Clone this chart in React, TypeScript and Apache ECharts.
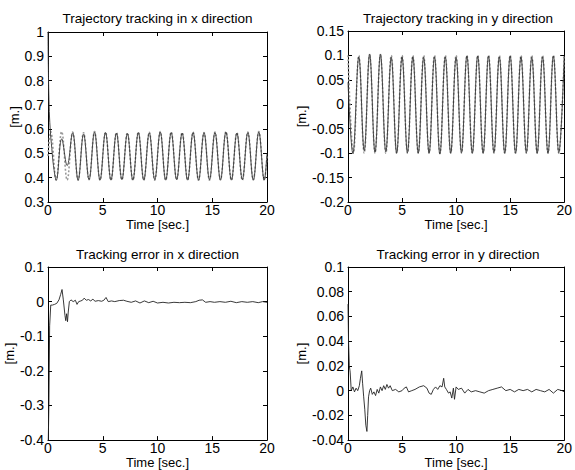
import React, { useEffect, useRef } from "react";
import * as echarts from "echarts";

// ---------- Data ----------
// Panel 1: trajectory tracking in x direction
const tRefX = [0, 0.25, 0.75, 1.25, 1.75, 2.25, 2.75, 3.25, 3.75, 4.25, 4.75, 5.25, 5.75, 6.25, 6.75, 7.25, 7.75, 8.25, 8.75, 9.25, 9.75, 10.25, 10.75, 11.25, 11.75, 12.25, 12.75, 13.25, 13.75, 14.25, 14.75, 15.25, 15.75, 16.25, 16.75, 17.25, 17.75, 18.25, 18.75, 19.25, 19.75, 20];
const refX = [0.49, 0.59, 0.39, 0.59, 0.39, 0.588, 0.39, 0.585, 0.392, 0.59, 0.39, 0.588, 0.39, 0.586, 0.392, 0.585, 0.39, 0.588, 0.39, 0.587, 0.39, 0.59, 0.39, 0.588, 0.392, 0.586, 0.39, 0.588, 0.39, 0.586, 0.39, 0.588, 0.392, 0.59, 0.39, 0.586, 0.39, 0.588, 0.392, 0.59, 0.39, 0.49];
const tActX = [0, 0.03, 0.1, 0.2, 0.35, 0.5, 0.75, 1.25, 1.75, 2.25, 2.75, 3.25, 3.75, 4.25, 4.75, 5.25, 5.75, 6.25, 6.75, 7.25, 7.75, 8.25, 8.75, 9.25, 9.75, 10.25, 10.75, 11.25, 11.75, 12.25, 12.75, 13.25, 13.75, 14.25, 14.75, 15.25, 15.75, 16.25, 16.75, 17.25, 17.75, 18.25, 18.75, 19.25, 19.75, 20];
const actX = [1.0, 0.86, 0.7, 0.6, 0.52, 0.45, 0.39, 0.56, 0.45, 0.585, 0.39, 0.58, 0.392, 0.588, 0.39, 0.586, 0.39, 0.584, 0.392, 0.582, 0.39, 0.586, 0.39, 0.585, 0.392, 0.588, 0.39, 0.586, 0.392, 0.584, 0.39, 0.586, 0.39, 0.585, 0.392, 0.586, 0.39, 0.588, 0.39, 0.584, 0.392, 0.586, 0.39, 0.588, 0.39, 0.5];

// Panel 2: trajectory tracking in y direction
const tRefY = [0, 0.5, 1, 1.5, 2, 2.5, 3, 3.5, 4, 4.5, 5, 5.5, 6, 6.5, 7, 7.5, 8, 8.5, 9, 9.5, 10, 10.5, 11, 11.5, 12, 12.5, 13, 13.5, 14, 14.5, 15, 15.5, 16, 16.5, 17, 17.5, 18, 18.5, 19, 19.5, 20];
const refY = [0.1, -0.1, 0.1, -0.1, 0.1, -0.1, 0.1, -0.1, 0.1, -0.1, 0.1, -0.1, 0.1, -0.1, 0.1, -0.1, 0.1, -0.1, 0.1, -0.1, 0.1, -0.1, 0.1, -0.1, 0.1, -0.1, 0.1, -0.1, 0.1, -0.1, 0.1, -0.1, 0.1, -0.1, 0.1, -0.1, 0.1, -0.1, 0.1, -0.1, 0.1];
const tActY = [0, 0.45, 1, 1.5, 2, 2.5, 3, 3.5, 4, 4.5, 5, 5.5, 6, 6.5, 7, 7.5, 8, 8.5, 9, 9.5, 10, 10.5, 11, 11.5, 12, 12.5, 13, 13.5, 14, 14.5, 15, 15.5, 16, 16.5, 17, 17.5, 18, 18.5, 19, 19.5, 20];
const actY = [0.045, -0.101, 0.097, -0.095, 0.103, -0.098, 0.103, -0.097, 0.096, -0.1, 0.097, -0.099, 0.097, -0.1, 0.096, -0.1, 0.097, -0.102, 0.097, -0.1, 0.096, -0.099, 0.099, -0.1, 0.099, -0.1, 0.099, -0.099, 0.097, -0.1, 0.099, -0.1, 0.097, -0.099, 0.096, -0.1, 0.097, -0.1, 0.099, -0.099, 0.099];

// Panel 3: tracking error in x direction
const tErrX = [0, 0.08, 0.15, 0.25, 0.4, 0.6, 0.8, 1.0, 1.15, 1.28, 1.4, 1.55, 1.62, 1.7, 1.78, 1.85, 1.95, 2.1, 2.3, 2.5, 2.65, 2.8, 3.0, 3.15, 3.3, 3.5, 3.7, 3.9, 4.1, 4.3, 4.6, 4.9, 5.1, 5.3, 5.5, 5.8, 6.1, 6.5, 6.9, 7.2, 7.6, 8.0, 8.4, 8.8, 9.2, 9.6, 10.0, 10.5, 11, 11.5, 12, 12.5, 13, 13.5, 13.8, 14.1, 14.4, 14.8, 15.2, 15.7, 16.2, 16.7, 17.2, 17.7, 18.2, 18.7, 19.2, 19.6, 20];
const errX = [-0.45, -0.3, -0.07, -0.01, -0.01, -0.008, -0.005, 0.005, 0.02, 0.035, 0.005, -0.04, -0.055, -0.035, -0.058, -0.03, 0.0, 0.005, 0.0, 0.004, -0.008, 0.0, 0.002, 0.004, 0.01, 0.004, 0.006, 0.002, 0.007, 0.001, 0.003, 0.001, 0.004, 0.012, 0.0, 0.002, 0.0, 0.003, 0.004, 0.001, -0.002, 0.002, -0.004, 0.002, -0.003, 0.001, -0.004, -0.002, -0.004, -0.002, -0.003, -0.002, -0.003, 0.0, 0.004, 0.005, -0.002, 0.0, -0.002, 0.0, -0.002, 0.001, -0.003, 0.0, -0.002, 0.0, -0.003, 0.0, -0.002];

// Panel 4: tracking error in y direction
const tErrY = [0, 0.05, 0.12, 0.2, 0.3, 0.45, 0.6, 0.75, 0.9, 1.05, 1.15, 1.27, 1.35, 1.45, 1.55, 1.65, 1.75, 1.82, 1.9, 2.0, 2.1, 2.25, 2.4, 2.55, 2.7, 2.85, 3.0, 3.15, 3.3, 3.45, 3.6, 3.75, 3.9, 4.1, 4.4, 4.7, 5.0, 5.2, 5.4, 5.6, 5.9, 6.2, 6.6, 7.0, 7.3, 7.5, 7.7, 7.9, 8.1, 8.3, 8.5, 8.7, 8.85, 8.95, 9.1, 9.3, 9.45, 9.6, 9.75, 9.85, 10.0, 10.2, 10.5, 10.8, 11.1, 11.4, 11.8, 12.2, 12.6, 13.0, 13.4, 13.8, 14.2, 14.6, 15.0, 15.4, 15.8, 16.2, 16.6, 17.0, 17.4, 17.8, 18.2, 18.6, 19.0, 19.4, 19.8, 20];
const errY = [0.07, 0.04, 0.02, 0.015, 0.0, 0.003, -0.001, 0.002, 0.0, 0.004, 0.01, 0.016, 0.006, -0.005, -0.015, -0.028, -0.033, -0.02, -0.005, 0.0, 0.002, -0.003, -0.001, -0.004, 0.001, -0.002, 0.003, 0.0, 0.004, 0.001, 0.005, 0.002, 0.004, 0.0, 0.001, -0.001, 0.0, 0.002, 0.003, -0.001, 0.0, 0.001, 0.003, 0.004, 0.002, -0.002, -0.003, 0.001, 0.003, 0.001, 0.004, 0.003, 0.01, 0.003, 0.001, -0.002, -0.001, -0.006, 0.002, -0.007, 0.003, 0.001, 0.002, -0.002, 0.001, -0.001, 0.0, -0.001, -0.002, 0.0, 0.001, 0.002, 0.003, 0.0, 0.001, -0.001, 0.001, 0.0, 0.001, -0.001, 0.001, 0.0, -0.001, 0.001, -0.002, 0.001, 0.0, -0.001];

const titles = [
  "Trajectory tracking in x direction",
  "Trajectory tracking in y direction",
  "Tracking error in x direction",
  "Tracking error in y direction",
];
const xName = "Time [sec.]";
const yName = "[m.]";

// ---------- Layout ----------
const FONT = "'Liberation Sans', Arial, Helvetica, sans-serif";
const grids = [
  { left: 48, top: 32, width: 219, height: 170 },
  { left: 348, top: 31, width: 220, height: 171 },
  { left: 48, top: 267, width: 219, height: 175 },
  { left: 348, top: 267, width: 220, height: 175 },
];
const yRanges = [
  { min: 0.3, max: 1, interval: 0.1 },
  { min: -0.2, max: 0.15, interval: 0.05 },
  { min: -0.4, max: 0.1, interval: 0.1 },
  { min: -0.04, max: 0.1, interval: 0.02 },
];
const titleY = [11, 11, 247, 247];
const xNameGap = [9, 9, 12, 12];
const yNameGap = [16, 22, 16, 22];

const zip = (t: number[], v: number[]) => t.map((x, i) => [x, v[i]]);

function buildOption() {
  const xAxis: any[] = [];
  const yAxis: any[] = [];
  const axisLine = { show: true, onZero: false, lineStyle: { color: "#000", width: 1 } };
  const axisTick = { show: true, inside: true, length: 4, lineStyle: { color: "#000", width: 1 } };
  grids.forEach((_, g) => {
    xAxis.push({
      type: "value", gridIndex: g, min: 0, max: 20, interval: 5, position: "bottom",
      axisLine, axisTick, splitLine: { show: false },
      axisLabel: { color: "#000", fontSize: 14, margin: 1, fontFamily: FONT },
      name: xName, nameLocation: "middle", nameGap: xNameGap[g],
      nameTextStyle: { color: "#000", fontSize: 13, fontFamily: FONT },
    });
    xAxis.push({
      type: "value", gridIndex: g, min: 0, max: 20, interval: 5, position: "top",
      axisLine, axisTick, splitLine: { show: false }, axisLabel: { show: false },
    });
    const r = yRanges[g];
    yAxis.push({
      type: "value", gridIndex: g, min: r.min, max: r.max, interval: r.interval, position: "left",
      axisLine, axisTick, splitLine: { show: false },
      axisLabel: { color: "#000", fontSize: 14, margin: 4, fontFamily: FONT },
      name: yName, nameLocation: "middle", nameGap: yNameGap[g],
      nameTextStyle: { color: "#000", fontSize: 13, fontFamily: FONT },
    });
    yAxis.push({
      type: "value", gridIndex: g, min: r.min, max: r.max, interval: r.interval, position: "right",
      axisLine, axisTick, splitLine: { show: false }, axisLabel: { show: false },
    });
  });

  const line = (g: number, data: number[][], color: string, width: number, type: any = "solid", z = 2) => ({
    type: "line", xAxisIndex: 2 * g, yAxisIndex: 2 * g, data, showSymbol: false, symbol: "none",
    smooth: 0.4, clip: true, z,
    lineStyle: { color, width, type },
  });

  return {
    animation: false,
    backgroundColor: "#fff",
    title: titles.map((text, g) => ({
      text,
      left: grids[g].left + grids[g].width / 2,
      top: titleY[g],
      textAlign: "center",
      padding: 0,
      textStyle: { color: "#000", fontSize: 13.5, fontWeight: "normal", fontFamily: FONT },
    })),
    grid: grids.map((g) => ({ ...g, containLabel: false })),
    xAxis,
    yAxis,
    series: [
      line(0, zip(tRefX, refX), "#999", 1.6, [2, 2], 2),
      line(0, zip(tActX, actX), "#333", 0.9, "solid", 3),
      line(1, zip(tRefY, refY), "#999", 1.6, [2, 2], 2),
      line(1, zip(tActY, actY), "#333", 0.9, "solid", 3),
      { ...line(2, zip(tErrX, errX), "#222", 0.9), smooth: false },
      { ...line(3, zip(tErrY, errY), "#222", 0.9), smooth: false },
    ],
  };
}

export default function App() {
  const ref = useRef<HTMLDivElement>(null);
  useEffect(() => {
    if (!ref.current) return;
    const chart = echarts.init(ref.current, undefined, { renderer: "svg" });
    chart.setOption(buildOption() as any);
    return () => chart.dispose();
  }, []);
  return (
    <div
      ref={ref}
      style={{ position: "fixed", left: 0, top: 0, width: 575, height: 470, background: "#fff" }}
    />
  );
}
